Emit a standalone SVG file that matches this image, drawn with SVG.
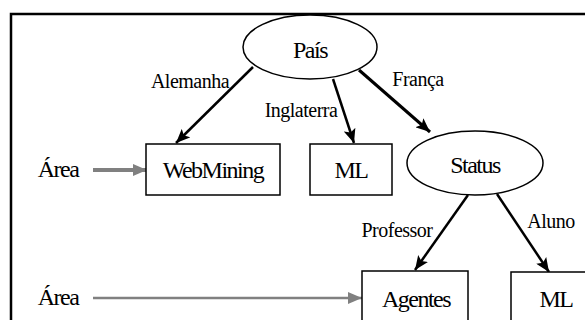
<svg xmlns="http://www.w3.org/2000/svg" width="585" height="320" viewBox="0 0 585 320" font-family="Liberation Serif, serif">
<style>
.t{fill:#000;text-anchor:middle}
.n{font-size:24px;letter-spacing:-1.5px}
.e{font-size:20px;letter-spacing:-0.5px}
.box{fill:#fff;stroke:#000;stroke-width:1.5}
.ell{fill:#fff;stroke:#000;stroke-width:1.5}
.edge{stroke:#000;stroke-width:2.5;fill:none;marker-end:url(#ah)}
.gray{stroke:#808080;fill:none;marker-end:url(#gh)}
</style>
<defs>
<marker id="ah" markerUnits="userSpaceOnUse" viewBox="0 0 14 12" refX="14" refY="6" markerWidth="14" markerHeight="12" orient="auto">
<path d="M0,0 L14,6 L0,12 L3,6 z" fill="#000"/>
</marker>
<marker id="gh" markerUnits="userSpaceOnUse" viewBox="0 0 14 12" refX="14" refY="6" markerWidth="14" markerHeight="12" orient="auto">
<path d="M0,0 L14,6 L0,12 z" fill="#808080"/>
</marker>
</defs>
<rect width="585" height="320" fill="#fff"/>
<path d="M11,320 L11,14 L585,14" fill="none" stroke="#000" stroke-width="2.5"/>
<g id="connectors">
<line class="edge" x1="253" y1="67" x2="176" y2="143"/>
<line class="edge" x1="333" y1="79" x2="354" y2="143"/>
<line class="edge" x1="359" y1="70" x2="430" y2="132" style="stroke-width:3"/>
<line class="edge" x1="468" y1="195" x2="415" y2="270"/>
<line class="edge" x1="497" y1="194" x2="549" y2="272"/>
<line class="gray" x1="93" y1="170" x2="147" y2="170" style="stroke-width:4"/>
<line class="gray" x1="93" y1="298" x2="362" y2="298" style="stroke-width:2.5"/>
<text class="t e" x="190" y="88">Alemanha</text>
<text class="t e" x="301" y="117">Inglaterra</text>
<text class="t e" x="418" y="86">França</text>
<text class="t e" x="397" y="237">Professor</text>
<text class="t e" x="551" y="228">Aluno</text>
</g>
<g id="pais">
<ellipse class="ell" cx="310" cy="47" rx="67" ry="32"/>
<text class="t n" x="310" y="58">País</text>
</g>
<g id="area1">
<text class="t n" x="58" y="177">Área</text>
</g>
<g id="webmining">
<rect class="box" x="146" y="144" width="134" height="51"/>
<text class="t n" x="213" y="178">WebMining</text>
</g>
<g id="ml1">
<rect class="box" x="310" y="144" width="82" height="51"/>
<text class="t n" x="351" y="178">ML</text>
</g>
<g id="status">
<ellipse class="ell" cx="475" cy="163" rx="68" ry="32"/>
<text class="t n" x="475" y="173">Status</text>
</g>
<g id="area2">
<text class="t n" x="58" y="305">Área</text>
</g>
<g id="agentes">
<rect class="box" x="362" y="271" width="106" height="60"/>
<text class="t n" x="416" y="307">Agentes</text>
</g>
<g id="ml2">
<rect class="box" x="511" y="272" width="90" height="60"/>
<text class="t n" x="556" y="307">ML</text>
</g>
</svg>
